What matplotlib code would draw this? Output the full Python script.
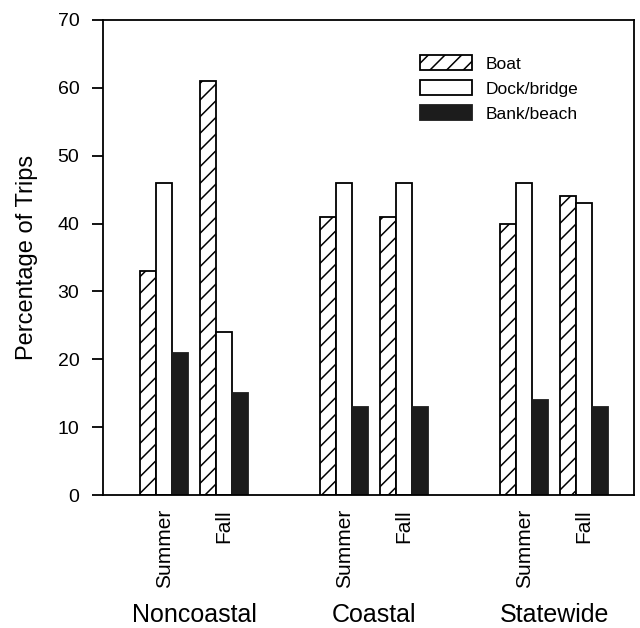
import numpy as np
import matplotlib.pyplot as plt
from matplotlib.patches import Patch

# Data (percentage of trips)
regions = ["Noncoastal", "Coastal", "Statewide"]
seasons = ["Summer", "Fall"]
modes = ["Boat", "Dock/bridge", "Bank/beach"]

boat = [33, 61, 41, 41, 40, 44]
dock = [46, 24, 46, 46, 46, 43]
bank = [21, 15, 13, 13, 14, 13]

yticks = [0, 10, 20, 30, 40, 50, 60, 70]

plt.rcParams['font.family'] = ['Liberation Sans', 'DejaVu Sans']
plt.rcParams['hatch.linewidth'] = 1.1

fig = plt.figure(figsize=(6.4, 6.28), dpi=100)
ax = fig.add_axes([103 / 640, 1 - 495 / 628, 531 / 640, 475 / 628])

# group centres: summer/fall pairs, gap between regions
centers = np.array([0, 1, 3, 4, 6, 7], dtype=float)
w = 0.267

ax.bar(centers - w, boat, w, color='white', edgecolor='black', hatch='//', linewidth=1.3)
ax.bar(centers, dock, w, color='white', edgecolor='black', linewidth=1.3)
ax.bar(centers + w, bank, w, color='#1c1c1c', edgecolor='#1c1c1c', linewidth=1.3)

ax.set_xlim(-1.02, 7.83)
ax.set_ylim(0, 70)
ax.set_yticks(yticks)
ax.tick_params(axis='y', length=8, width=1.3, pad=9, labelsize=14)
ax.set_xticks(centers)
ax.set_xticklabels(seasons * 3, rotation=90, fontsize=15)
ax.tick_params(axis='x', length=0, pad=10)
for s in ax.spines.values():
    s.set_linewidth(1.3)

ax.set_ylabel("Percentage of Trips", fontsize=17, labelpad=14)

# region labels under each pair
for i, r in enumerate(regions):
    xc = (centers[2 * i] + centers[2 * i + 1]) / 2
    ax.text(xc, -0.277, r, transform=ax.get_xaxis_transform(), ha='center', va='bottom', fontsize=18)

handles = [
    Patch(facecolor='white', edgecolor='black', hatch='//', linewidth=1.3),
    Patch(facecolor='white', edgecolor='black', linewidth=1.3),
    Patch(facecolor='#1c1c1c', edgecolor='#1c1c1c', linewidth=1.3),
]
ax.legend(handles, modes, loc='upper left', bbox_to_anchor=(420 / 640, 1 - 55 / 628),
          bbox_transform=fig.transFigure, frameon=False, fontsize=12.5,
          handlelength=3.0, handleheight=0.96, labelspacing=0.5,
          handletextpad=0.8, borderpad=0, borderaxespad=0)

fig.savefig("out.png", dpi=100)
